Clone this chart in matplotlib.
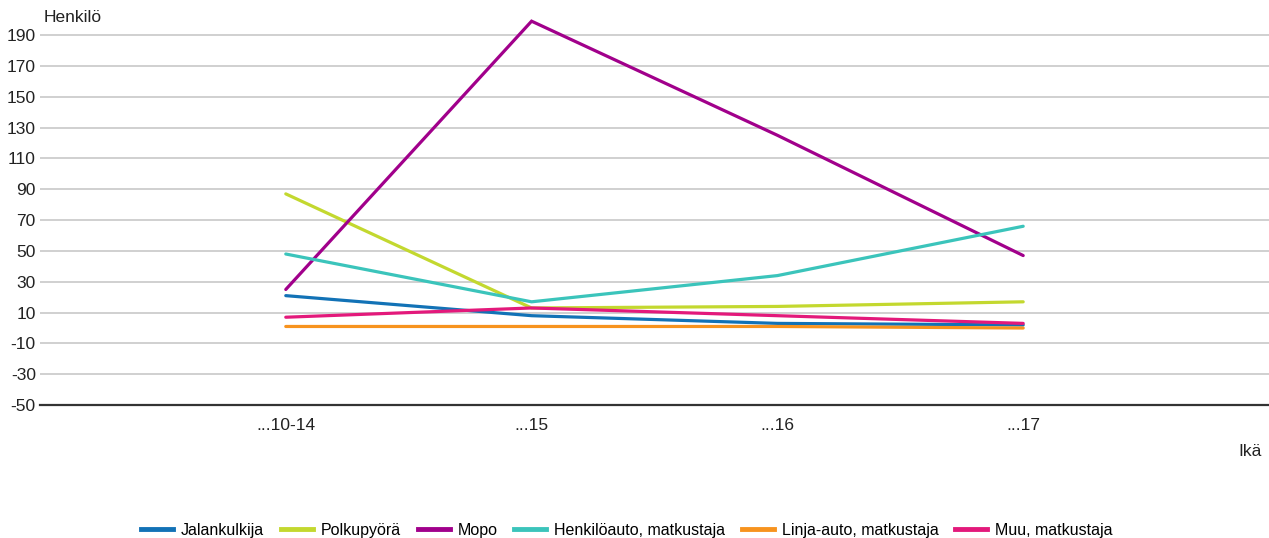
import matplotlib
matplotlib.use('Agg')
import matplotlib.pyplot as plt
from matplotlib.lines import Line2D

plt.rcParams['font.family'] = ['Liberation Sans', 'DejaVu Sans']

# ── data ──────────────────────────────────────────────────────────
ages = ['...10-14', '...15', '...16', '...17']
jalankulkija = [21, 8, 3, 2]
polkupyora = [87, 13, 14, 17]
mopo = [25, 199, 125, 47]
henkiloauto = [48, 17, 34, 66]
linja_auto = [1, 1, 1, 0]
muu = [7, 13, 8, 3]

series = [
    ('Jalankulkija', jalankulkija, '#1272b6'),
    ('Polkupyörä', polkupyora, '#c3d82f'),
    ('Mopo', mopo, '#a1008b'),
    ('Henkilöauto, matkustaja', henkiloauto, '#3bc4bb'),
    ('Linja-auto, matkustaja', linja_auto, '#f7931e'),
    ('Muu, matkustaja', muu, '#e3197b'),
]
yticks = list(range(-50, 191, 20))

fig = plt.figure(figsize=(12.69, 5.38), dpi=100)
ax = fig.add_axes([0.0315, 0.247, 0.9685, 0.7165])

x = list(range(len(ages)))
for name, vals, col in series:
    ax.plot(x, vals, color=col, lw=2.3, solid_capstyle='round',
            solid_joinstyle='miter', clip_on=False, zorder=3)

ax.set_xlim(-1, len(ages))
ax.set_ylim(-50, 200)
ax.set_yticks(yticks)
ax.set_yticklabels([str(v) for v in yticks], fontsize=12.5, color='#222')
ax.set_xticks(x)
ax.set_xticklabels(ages, fontsize=12.5, color='#222')
ax.tick_params(axis='y', length=0, pad=3)
ax.tick_params(axis='x', length=0, pad=9)
ax.grid(axis='y', color='#c4c4c4', lw=1.1)
ax.set_axisbelow(True)
for s in ['top', 'right', 'left']:
    ax.spines[s].set_visible(False)
ax.spines['bottom'].set_color('#333')
ax.spines['bottom'].set_linewidth(1.6)
ax.spines['bottom'].set_zorder(4)

fig.text(44 / 1269, 1 - 18 / 538, 'Henkilö', fontsize=12.5, color='#222',
         ha='left', va='center')
fig.text(1262 / 1269, 1 - 452 / 538, 'Ikä', fontsize=12.5, color='#222',
         ha='right', va='center')

handles = [Line2D([0], [0], color=c, lw=3.5) for _, _, c in series]
labels = [n for n, _, _ in series]
fig.legend(handles, labels, loc='center', bbox_to_anchor=(0.494, 1 - 530 / 538),
           ncol=6, frameon=False, fontsize=11.5, handlelength=2.0,
           handletextpad=0.5, columnspacing=1.05)

fig.savefig('out.png', dpi=100, facecolor='white')
